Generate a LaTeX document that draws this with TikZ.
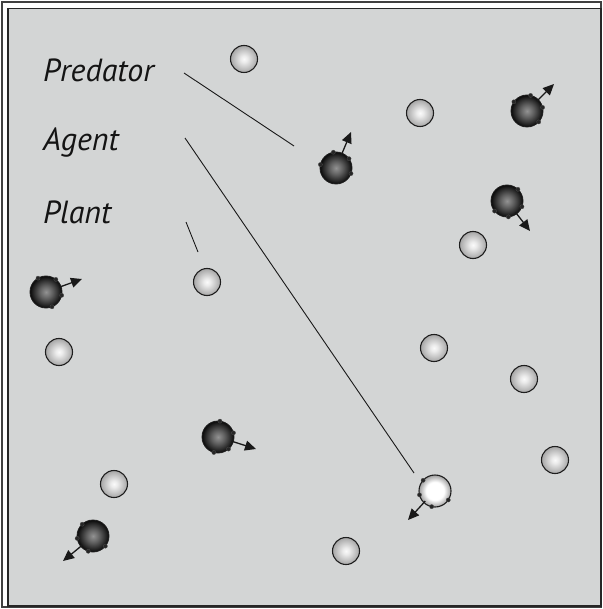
\documentclass[tikz,border=0pt]{standalone}
\usepackage{fontspec}
\setmainfont{PT Sans}
\usetikzlibrary{arrows.meta,calc}
\definecolor{bg}{HTML}{D3D5D5}
\definecolor{edge}{HTML}{1E1E1E}
\pgfdeclareradialshading{plantsh}{\pgfpoint{0cm}{0cm}}{color(0bp)=(white!96!gray); color(6bp)=(white!85!gray); color(25bp)=(gray!70); color(50bp)=(gray!70)}
\pgfdeclareradialshading{predsh}{\pgfpoint{0cm}{0cm}}{color(0bp)=(gray!85); color(10bp)=(black!62); color(25bp)=(black!96); color(50bp)=(black!96)}
\pgfdeclareradialshading{agentsh}{\pgfpoint{0cm}{0cm}}{color(0bp)=(white); color(14bp)=(white); color(25bp)=(gray!75); color(50bp)=(gray!75)}
\tikzset{
  plant/.style={circle,draw=edge,line width=1.1pt,minimum size=27pt,inner sep=0pt,shading=plantsh},
  pred/.style={circle,draw=edge,line width=0.8pt,minimum size=32pt,inner sep=0pt,shading=predsh},
  agentc/.style={circle,draw=edge,line width=1.1pt,minimum size=32pt,inner sep=0pt,shading=agentsh},
  lbl/.style={anchor=base west,font=\itshape\fontsize{32}{34}\selectfont,text=black!92,inner sep=0pt},
  lead/.style={line width=0.9pt,black!90},
  mover/.style={line width=1.3pt,black!90,-{Triangle[length=11pt,width=10pt]}},
  bump/.style={fill=black!85,draw=black!70,line width=0.3pt}
}
\newcommand{\mkcreature}[5]{%
  \node[#5] (#1) at (#2) {};
  \coordinate (#1t) at (#3);
  \draw[mover] ($(#1)+(#4:14pt)$) -- (#1t);
  \fill[bump] ($(#1)+(#4+32:16pt)$) circle (2.1pt);
  \fill[bump] ($(#1)+(#4+100:16pt)$) circle (2.1pt);
  \fill[bump] ($(#1)+(#4-32:16pt)$) circle (2.1pt);
  \fill[bump] ($(#1)+(#4-88:16pt)$) circle (2.1pt);
}
\begin{document}
\begin{tikzpicture}[x=1pt,y=-1pt]
\useasboundingbox (0,0) rectangle (602,609);
\draw[black!75,line width=1.2pt] (2,2) rectangle (601,607);
\draw[black!85,fill=bg,line width=1.2pt] (8,8.5) rectangle (601,606);
% labels
\node[lbl] (tpred) at (43,82) {Predator};
\node[lbl] (tagent) at (43,151) {Agent};
\node[lbl] (tplant) at (43,224) {Plant};
% plants
\foreach \n/\x/\y in {p1/244/59,p2/420/113,p3/473/245,p4/207/282,p5/59/352,p6/434/348,p7/524/379,p8/555/460,p9/114/484,p10/346/551}
  \node[plant] (\n) at (\x,\y) {};
% predators
\mkcreature{r1}{336,168}{351,132}{67.6}{pred}
\mkcreature{r2}{527,111}{554,84}{45}{pred}
\mkcreature{r3}{507,201}{530,231}{-53}{pred}
\mkcreature{r4}{46,292}{82,279}{20}{pred}
\mkcreature{r5}{218,437}{256,449}{-17}{pred}
\mkcreature{r6}{93,536}{63,561}{220.6}{pred}
% agent
\mkcreature{ag}{435,491}{408,520}{226}{agentc}
% leader lines
\coordinate (lp1) at (184,73);
\coordinate (lp2) at (294,146);
\coordinate (la1) at (185,138);
\coordinate (la2) at (414,473);
\coordinate (ll1) at (186,222);
\coordinate (ll2) at (198,252);
\draw[lead] (lp1) -- (lp2);
\draw[lead] (la1) -- (la2);
\draw[lead] (ll1) -- (ll2);
\end{tikzpicture}
\end{document}
